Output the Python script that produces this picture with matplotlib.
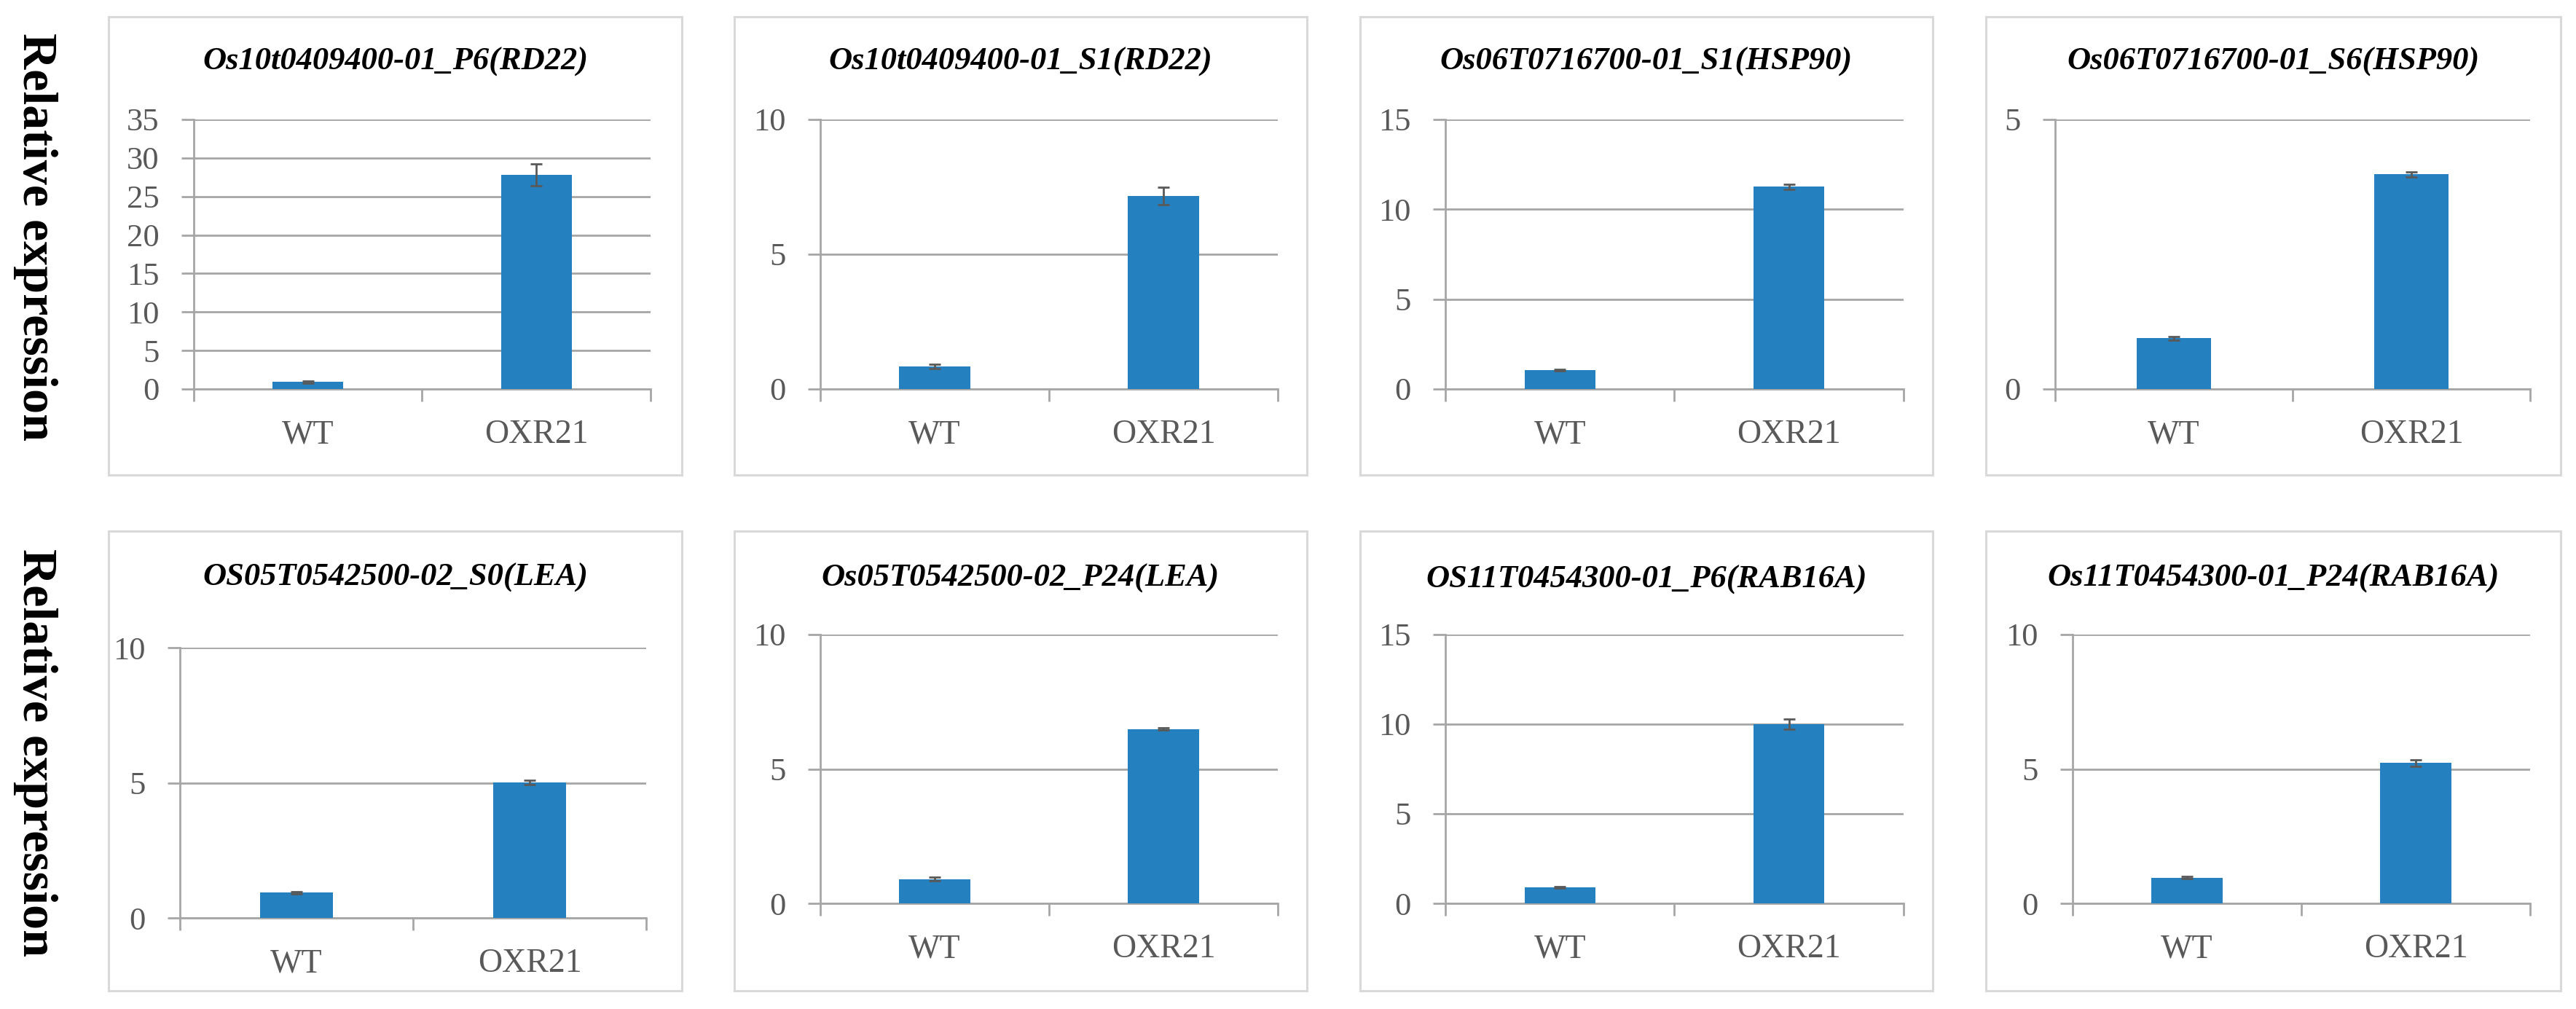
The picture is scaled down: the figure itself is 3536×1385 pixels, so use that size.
import matplotlib
matplotlib.use('Agg')
import matplotlib.pyplot as plt
from matplotlib.patches import Rectangle
from matplotlib.ticker import FixedLocator

# data (relative expression, mean and error)
titles = ['Os10t0409400-01_P6(RD22)', 'Os10t0409400-01_S1(RD22)',
          'Os06T0716700-01_S1(HSP90)', 'Os06T0716700-01_S6(HSP90)',
          'OS05T0542500-02_S0(LEA)', 'Os05T0542500-02_P24(LEA)',
          'OS11T0454300-01_P6(RAB16A)', 'Os11T0454300-01_P24(RAB16A)']
groups = ['WT', 'OXR21']
wt_mean = [0.9, 0.84, 1.05, 0.94, 0.93, 0.9, 0.9, 0.96]
wt_err = [0.15, 0.08, 0.05, 0.03, 0.05, 0.07, 0.05, 0.04]
oxr_mean = [27.8, 7.17, 11.25, 3.98, 5.02, 6.49, 10.0, 5.22]
oxr_err = [1.4, 0.32, 0.15, 0.05, 0.08, 0.05, 0.29, 0.12]
y_max = [35, 10, 15, 5, 10, 10, 15, 10]
y_step = [5, 5, 5, 5, 5, 5, 5, 5]
ylabel = 'Relative expression'

W, H = 3537, 1385
fig = plt.figure(figsize=(W / 100, H / 100), dpi=100)
fig.patch.set_facecolor('white')

def rect(l, t, r, b):
    return [l / W, 1 - b / H, (r - l) / W, (b - t) / H]

# layout in pixels (left, top, right, bottom)
frames = [(149, 23, 936, 652), (1008, 23, 1794, 652), (1867, 23, 2653, 652), (2726, 23, 3515, 652),
          (149, 729, 936, 1360), (1008, 729, 1794, 1360), (1867, 729, 2653, 1360), (2726, 729, 3515, 1360)]
plots = [(266, 164, 893, 534), (1126, 164, 1754, 534), (1984, 164, 2613, 534), (2821, 164, 3473, 534),
         (247, 889, 887, 1260), (1126, 871, 1754, 1240), (1984, 871, 2613, 1240), (2845, 871, 3473, 1240)]
title_y = [85, 85, 85, 85, 793, 794, 796, 794]

serif = 'Liberation Serif'
grey = '#595959'
line = '#a6a6a6'
blue = '#2580c0'

for i in range(8):
    fl, ft, fr, fb = frames[i]
    fig.patches.append(Rectangle(((fl) / W, 1 - fb / H), (fr - fl) / W, (fb - ft) / H,
                                 transform=fig.transFigure, fill=False,
                                 edgecolor='#d9d9d9', linewidth=2.2))
    fig.text((fl + fr) / 2 / W, 1 - title_y[i] / H, titles[i], ha='center', va='center',
             fontfamily=serif, fontweight='bold', fontstyle='italic', fontsize=32, color='black')

    ax = fig.add_axes(rect(*plots[i]))
    vals = [wt_mean[i], oxr_mean[i]]
    errs = [wt_err[i], oxr_err[i]]
    ax.bar([0.5, 1.5], vals, width=0.31, color=blue, zorder=3,
           yerr=errs, error_kw=dict(ecolor=grey, elinewidth=2, capsize=5.5, capthick=2, zorder=4))
    ax.set_xlim(0, 2)
    ax.set_ylim(0, y_max[i])
    ax.yaxis.set_major_locator(FixedLocator(list(range(0, y_max[i] + 1, y_step[i]))))
    ax.yaxis.grid(True, color=line, linewidth=2, zorder=0)
    ax.set_axisbelow(True)

    ax.set_xticks([0.5, 1.5])
    ax.set_xticklabels(groups)
    ax.set_xticks([0, 1, 2], minor=True)
    ax.tick_params(axis='x', which='major', length=0, pad=30, labelsize=33, labelcolor=grey)
    ax.tick_params(axis='x', which='minor', length=12, width=2, color=line, direction='out')
    ax.tick_params(axis='y', length=12, width=2, color=line, pad=22, labelsize=32, labelcolor=grey)
    for lab in ax.get_xticklabels() + ax.get_yticklabels():
        lab.set_fontfamily(serif)

    for s in ['top', 'right']:
        ax.spines[s].set_visible(False)
    for s in ['left', 'bottom']:
        ax.spines[s].set_color(line)
        ax.spines[s].set_linewidth(2)

# row labels
fig.text(48 / W, 1 - 325 / H, ylabel, rotation=270, ha='center', va='center',
         fontfamily=serif, fontweight='bold', fontsize=49, color='black')
fig.text(48 / W, 1 - 1033 / H, ylabel, rotation=270, ha='center', va='center',
         fontfamily=serif, fontweight='bold', fontsize=49, color='black')

fig.savefig('out.png', dpi=100, facecolor='white')
